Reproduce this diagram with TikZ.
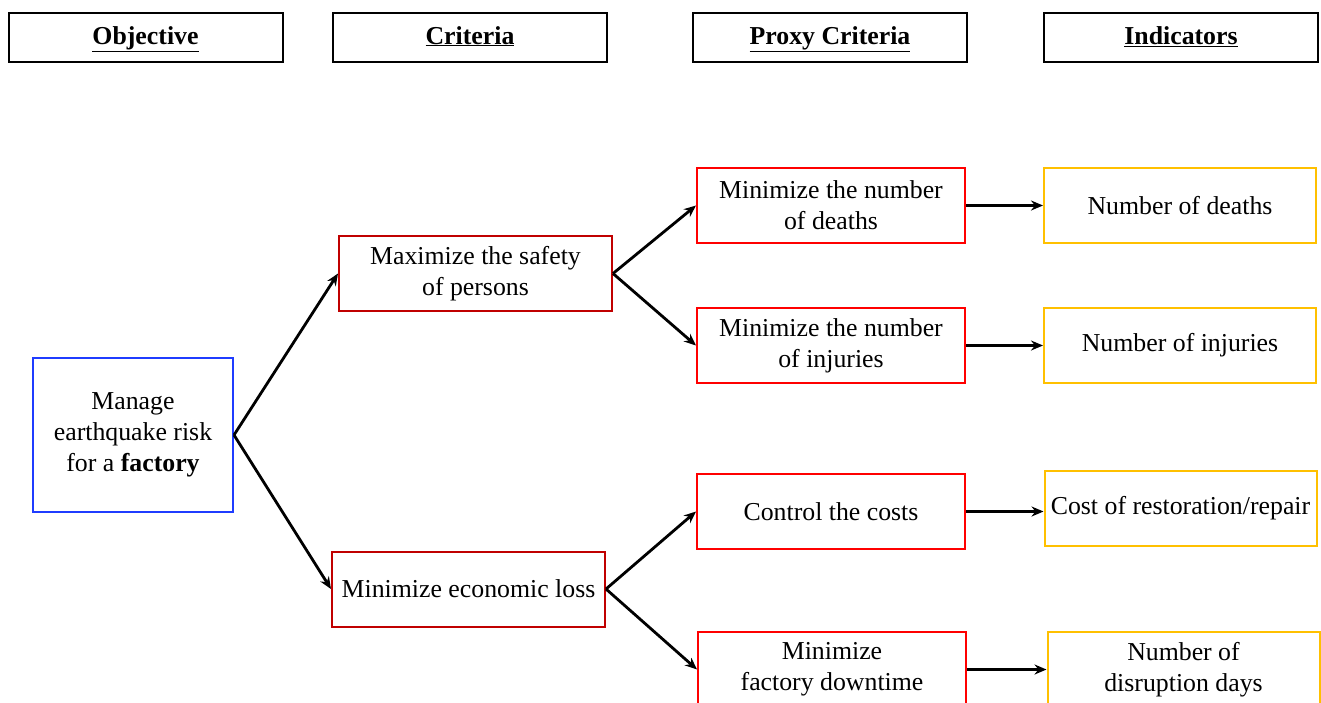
\documentclass[tikz,border=0pt]{standalone}
\usepackage{fontspec}
\setmainfont{Liberation Serif}
\usetikzlibrary{arrows.meta}
\definecolor{objblue}{HTML}{1F3CFF}
\definecolor{critred}{HTML}{C00000}
\definecolor{proxyred}{HTML}{FF0000}
\definecolor{indorange}{HTML}{FFC000}
\begin{document}
\begin{tikzpicture}[x=1pt,y=-1pt,
  every node/.style={font=\fontsize{25.8}{31}\selectfont, align=center, inner sep=0pt},
  box/.style={draw, line width=2pt, minimum height=75pt},
  headbox/.style={box, draw=black, minimum width=274pt, minimum height=49pt,
    text height=18pt, text depth=4pt},
  objbox/.style={box, draw=objblue, minimum width=200pt, minimum height=154pt},
  critbox/.style={box, draw=critred, minimum width=273pt},
  proxybox/.style={box, draw=proxyred, minimum width=268pt},
  indbox/.style={box, draw=indorange, minimum width=272pt},
  link/.style={line width=2.8pt, -{Stealth[length=12pt,width=10pt]}}]
\useasboundingbox (0,0) rectangle (1321,702);
\clip (0,0) rectangle (1321,702);

% column headings
\node[headbox] (hobj)   at (145.5,37.5) {\underline{\textbf{Objective}}};
\node[headbox] (hcrit)  at (470,37)     {\underline{\textbf{Criteria}}};
\node[headbox] (hproxy) at (830,37)     {\underline{\textbf{Proxy Criteria}}};
\node[headbox] (hind)   at (1181,37.5)  {\underline{\textbf{Indicators}}};

% objective
\node[objbox] (obj) at (133,435) {Manage\\earthquake risk\\for a \textbf{factory}};

% criteria
\node[critbox] (safety) at (475.5,273.5) {Maximize the safety\\of persons};
\node[critbox] (econ)   at (468.5,589)   {Minimize economic loss};

% proxy criteria
\node[proxybox] (deaths)   at (831,205.5) {Minimize the number\\of deaths};
\node[proxybox] (injuries) at (831,345.5) {Minimize the number\\of injuries};
\node[proxybox] (costs)    at (831,511.5) {Control the costs};
\node[proxybox] (downtime) at (832,669.5) {Minimize\\factory downtime};

% indicators
\node[indbox] (ndeaths)   at (1180,205.5) {Number of deaths};
\node[indbox] (ninjuries) at (1180,345.5) {Number of injuries};
\node[indbox] (ncost)     at (1180.5,508.5) {Cost of restoration/repair};
\node[indbox] (ndays)     at (1183.5,669.5) {Number of\\disruption days};

% connectors
\draw[link] (obj.east) -- (safety.west);
\draw[link] (obj.east) -- (econ.west);
\draw[link] (safety.east) -- (deaths.west);
\draw[link] (safety.east) -- (injuries.west);
\draw[link] (econ.east) -- (costs.west);
\draw[link] (econ.east) -- (downtime.west);
\draw[link] (deaths.east) -- (ndeaths.west);
\draw[link] (injuries.east) -- (ninjuries.west);
\draw[link] (costs.east) -- (costs.east -| ncost.west);
\draw[link] (downtime.east) -- (ndays.west);
\end{tikzpicture}
\end{document}
